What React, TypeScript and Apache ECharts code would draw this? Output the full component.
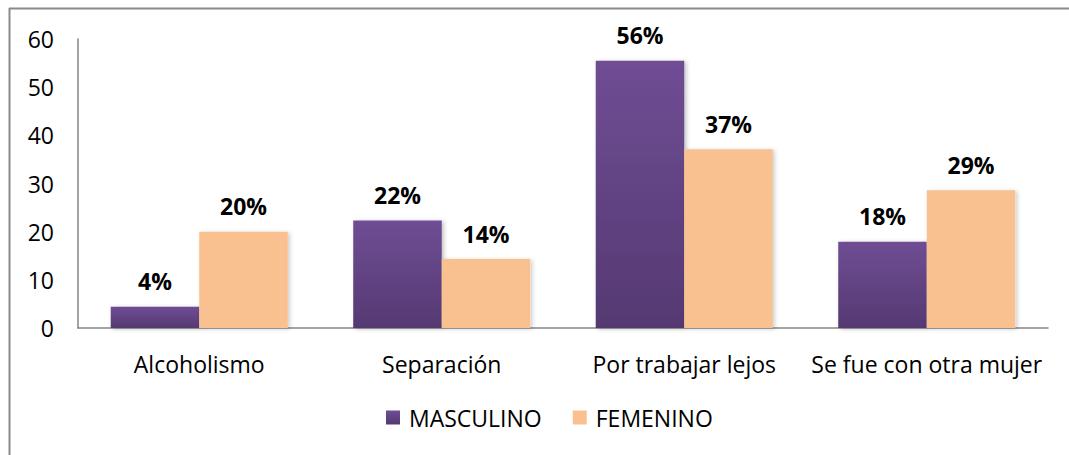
import React, { useEffect, useRef } from "react";
import * as echarts from "echarts";

const categories = ["Alcoholismo", "Separación", "Por trabajar lejos", "Se fue con otra mujer"];
const masculino = [4.4, 22.3, 55.5, 17.9];
const femenino = [20, 14.3, 37.1, 28.6];
const masculinoLabels = ["4%", "22%", "56%", "18%"];
const femeninoLabels = ["20%", "14%", "37%", "29%"];
const yTicks = [0, 10, 20, 30, 40, 50, 60];

const FONT = "'Open Sans', 'Noto Sans', sans-serif";

export default function App() {
  const ref = useRef<HTMLDivElement>(null);
  useEffect(() => {
    if (!ref.current) return;
    const chart = echarts.init(ref.current, null, { renderer: "svg" });
    chart.setOption({
      animation: false,
      backgroundColor: "#ffffff",
      textStyle: { fontFamily: FONT },
      graphic: [
        { type: "line", shape: { x1: 9, y1: 8.5, x2: 1069, y2: 8.5 }, style: { stroke: "#8a8a8a", lineWidth: 2 } },
        { type: "line", shape: { x1: 9.5, y1: 8, x2: 9.5, y2: 455 }, style: { stroke: "#8a8a8a", lineWidth: 2 } },
      ],
      grid: { left: 78, right: 21, top: 39, bottom: 127 },
      legend: {
        bottom: 21,
        left: 381,
        itemWidth: 14,
        itemHeight: 14,
        itemGap: 31,
        itemStyle: { borderWidth: 0 },
        icon: "rect",
        textStyle: { fontSize: 23, color: "#000", fontFamily: FONT, padding: [0, 0, 0, 4] },
        data: ["MASCULINO", "FEMENINO"],
      },
      xAxis: {
        type: "category",
        data: categories,
        axisLine: { lineStyle: { color: "#868686", width: 1.5 } },
        axisTick: { show: false },
        axisLabel: { fontSize: 23, color: "#000", margin: 24, interval: 0, fontFamily: FONT },
      },
      yAxis: {
        type: "value",
        min: yTicks[0],
        max: yTicks[yTicks.length - 1],
        interval: 10,
        splitLine: { show: false },
        axisLine: { show: true, lineStyle: { color: "#868686", width: 1.5 } },
        axisTick: { show: false },
        axisLabel: { fontSize: 23, color: "#000", margin: 24, fontFamily: FONT },
      },
      series: [
        {
          name: "MASCULINO",
          type: "bar",
          data: masculino,
          barGap: "0%",
          barCategoryGap: "27%",
          itemStyle: {
            color: new echarts.graphic.LinearGradient(0, 0, 0, 1, [
              { offset: 0, color: "#6f4d94" },
              { offset: 1, color: "#553972" },
            ]),
            shadowColor: "rgba(0,0,0,0.25)",
            shadowBlur: 4,
            shadowOffsetX: 2,
            shadowOffsetY: 1,
          },
          label: {
            show: true,
            position: "top",
            distance: 14,
            fontSize: 23,
            fontWeight: "bold",
            color: "#000",
            fontFamily: FONT,
            formatter: (p: any) => masculinoLabels[p.dataIndex],
          },
        },
        {
          name: "FEMENINO",
          type: "bar",
          data: femenino,
          itemStyle: {
            color: "#f9c18f",
            shadowColor: "rgba(0,0,0,0.2)",
            shadowBlur: 4,
            shadowOffsetX: 2,
            shadowOffsetY: 1,
          },
          label: {
            show: true,
            position: "top",
            distance: 14,
            fontSize: 23,
            fontWeight: "bold",
            color: "#000",
            fontFamily: FONT,
            formatter: (p: any) => femeninoLabels[p.dataIndex],
          },
        },
      ],
    });
    return () => chart.dispose();
  }, []);
  return (
    <div
      ref={ref}
      style={{ position: "absolute", left: 0, top: 0, width: 1069, height: 455 }}
    />
  );
}
